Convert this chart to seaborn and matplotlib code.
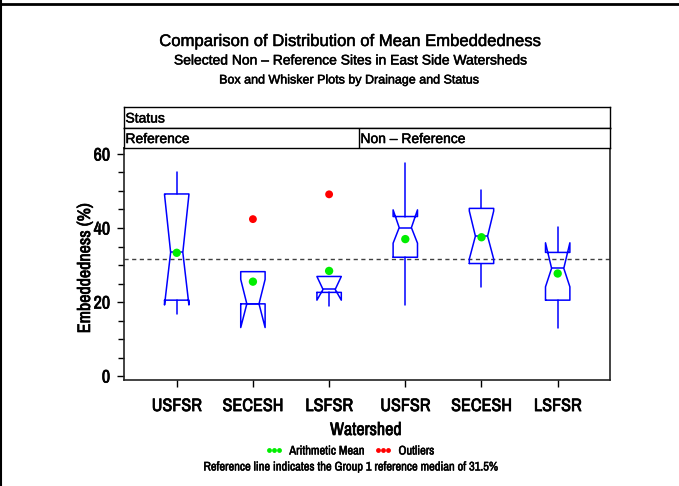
import matplotlib
matplotlib.use("Agg")
import matplotlib.pyplot as plt
from matplotlib.lines import Line2D
from matplotlib import patheffects as pe
import seaborn as sns
import pandas as pd

# ---------------- data ----------------
status = ["Reference", "Reference", "Reference",
          "Non \u2013 Reference", "Non \u2013 Reference", "Non \u2013 Reference"]
watershed = ["USFSR", "SECESH", "LSFSR", "USFSR", "SECESH", "LSFSR"]
whisker_low = [16.7, 19.5, 19.0, 19.2, 24.1, 12.9]
q1_values = [20.5, 19.5, 22.6, 32.1, 30.4, 20.5]
notch_low = [19.2, 13.1, 20.5, 35.9, 31.6, 24.1]
medians = [33.4, 19.5, 23.4, 40.1, 37.8, 29.1]
notch_high = [49.0, 26.1, 26.9, 44.9, 44.6, 36.0]
q3_values = [49.2, 28.2, 26.9, 43.1, 45.3, 33.4]
whisker_high = [55.2, 28.2, 26.9, 57.6, 50.3, 40.2]
means = [33.3, 25.5, 28.4, 37.0, 37.5, 27.7]
outlier_box = [1, 2]
outlier_values = [42.4, 49.1]
reference_median = 31.5
y_ticks = [0, 20, 40, 60]

titles = ["Comparison of Distribution of Mean Embeddedness",
          "Selected Non \u2013 Reference Sites in East Side Watersheds",
          "Box and Whisker Plots by Drainage and Status"]

# ---------------- style ----------------
sns.set_theme(style="white")
plt.rcParams["font.family"] = ["Liberation Sans", "DejaVu Sans"]
plt.rcParams["text.color"] = "black"
COND = ["Archivo Narrow", "Liberation Sans"]
HEAVY = [pe.withStroke(linewidth=0.5, foreground="black")]
HEAVY_S = [pe.withStroke(linewidth=0.35, foreground="black")]

W, H = 679, 486
fig = plt.figure(figsize=(W / 100, H / 100), dpi=100)
fig.patch.set_facecolor("white")


def fx(px):
    return px / W


def fy(py):
    return 1 - py / H


ax_l, ax_r, ax_t, ax_b = 124, 609.5, 148.3, 380
ax = fig.add_axes([fx(ax_l), fy(ax_b), fx(ax_r - ax_l), (ax_b - ax_t) / H])
ax.set_facecolor("white")

positions = list(range(len(watershed)))
stats = []
for i in positions:
    stats.append(dict(med=medians[i], q1=q1_values[i], q3=q3_values[i],
                      whislo=whisker_low[i], whishi=whisker_high[i],
                      cilo=notch_low[i], cihi=notch_high[i], fliers=[],
                      mean=means[i], label=watershed[i]))

blue = "#0000ff"
ax.bxp(stats, positions=positions, widths=0.32, shownotches=True,
       showcaps=False, showfliers=False, showmeans=False, patch_artist=False,
       boxprops=dict(color=blue, lw=1.1),
       whiskerprops=dict(color=blue, lw=1.1),
       medianprops=dict(color=blue, lw=1.1))

ax.axhline(reference_median, color="#404040", lw=1.0, ls=(0, (3, 2.5)), zorder=1)

df_mean = pd.DataFrame({"pos": positions, "mean": means})
sns.scatterplot(data=df_mean, x="pos", y="mean", ax=ax, color="#00ee00",
                s=36, edgecolor="none", zorder=5, legend=False)
df_out = pd.DataFrame({"pos": outlier_box, "val": outlier_values})
sns.scatterplot(data=df_out, x="pos", y="val", ax=ax, color="#ff0000",
                s=32, edgecolor="none", zorder=5, legend=False)

ax.set_xlim(-0.692, 5.68)
ax.set_ylim(-1.08, 61.54)
ax.set_xticks(positions)
ax.set_xticklabels(watershed, fontfamily=COND, fontsize=13, color="black",
                   path_effects=HEAVY)
ax.set_yticks(y_ticks)
ax.set_yticks(range(0, 61, 5), minor=True)
ax.set_yticklabels([str(v) for v in y_ticks], fontfamily=COND, fontsize=13,
                   color="black", path_effects=HEAVY)
ax.tick_params(axis="x", which="both", bottom=True, length=5, width=1,
               color="black", pad=8)
ax.tick_params(axis="y", which="major", left=True, length=5, width=1,
               color="black", pad=5)
ax.tick_params(axis="y", which="minor", left=True, length=4, width=1,
               color="black")
ax.set_xlabel("")
ax.set_ylabel("")
for side, sp in ax.spines.items():
    sp.set_visible(True)
    sp.set_color("#222222")
    sp.set_linewidth(1.2)

# axis titles
fig.text(fx(85), fy(268), "Embeddedness (%)", rotation=90, ha="center",
         va="center", fontfamily=COND, fontsize=13, path_effects=HEAVY)
fig.text(fx(366), fy(430), "Watershed", ha="center", va="center",
         fontfamily=COND, fontsize=13, path_effects=HEAVY)

# panel headers
hdr1 = fig.add_axes([fx(ax_l), fy(127.7), fx(ax_r - ax_l), 20.4 / H])
hdr2 = fig.add_axes([fx(ax_l), fy(148.3), fx(ax_r - ax_l), 20.6 / H])
for h in (hdr1, hdr2):
    h.set_xticks([])
    h.set_yticks([])
    h.set_facecolor("white")
    for sp in h.spines.values():
        sp.set_color("black")
        sp.set_linewidth(1.0)
hdr1.text(0.003, 0.45, "Status", ha="left", va="center", fontsize=10,
          transform=hdr1.transAxes, path_effects=HEAVY_S)
div = (359 - ax_l) / (ax_r - ax_l)
hdr2.axvline(div, color="black", lw=1.0)
hdr2.text(0.003, 0.45, status[0], ha="left", va="center", fontsize=10,
          transform=hdr2.transAxes, path_effects=HEAVY_S)
hdr2.text(div + 0.003, 0.45, status[3], ha="left", va="center", fontsize=10,
          transform=hdr2.transAxes, path_effects=HEAVY_S)

# titles
fig.text(0.5 * (160 + 541) / W, fy(46), titles[0], ha="center", va="baseline",
         fontsize=12, path_effects=HEAVY_S)
fig.text(0.5 * (158 + 544) / W, fy(64.5), titles[1], ha="center",
         va="baseline", fontsize=10, path_effects=HEAVY_S)
fig.text(0.5 * (200 + 500) / W, fy(83.5), titles[2], ha="center",
         va="baseline", fontsize=9, path_effects=HEAVY_S)

# legend and footnote
handles = [Line2D([], [], color="#00ee00", marker="o", ls="none",
                  markersize=3.5, markeredgewidth=0),
           Line2D([], [], color="#ff0000", marker="o", ls="none",
                  markersize=3.5, markeredgewidth=0)]
leg = fig.legend(handles, ["Arithmetic Mean", "Outliers"], loc="center",
                 bbox_to_anchor=(fx(350), fy(451)), ncol=2, numpoints=3,
                 frameon=False, handlelength=1.4, handletextpad=0.5,
                 columnspacing=0.8, prop=dict(family=COND, size=9))
for t in leg.get_texts():
    t.set_color("black")
    t.set_path_effects(HEAVY_S)
fig.text(fx(351), fy(467),
         "Reference line indicates the Group 1 reference median of 31.5%",
         ha="center", va="center", fontfamily=COND, fontsize=9,
         path_effects=HEAVY_S)

# outer frame lines
fig.add_artist(Line2D([0, 1], [fy(4), fy(4)], transform=fig.transFigure,
                      color="black", lw=2))
fig.add_artist(Line2D([fx(1), fx(1)], [0, 1], transform=fig.transFigure,
                      color="black", lw=1.5))

fig.savefig("out.png", dpi=100, facecolor="white")
